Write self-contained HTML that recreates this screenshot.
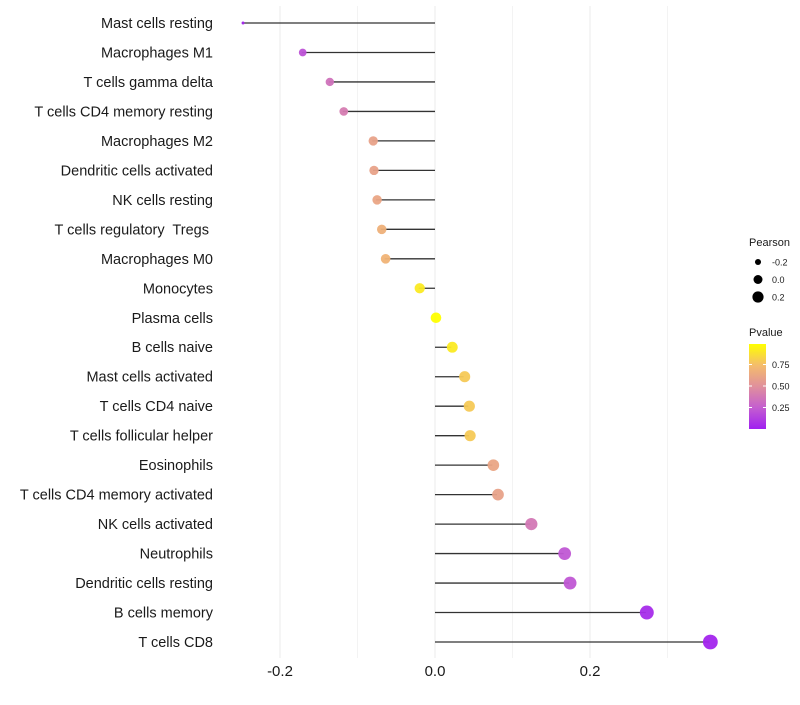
<!DOCTYPE html>
<html><head><meta charset="utf-8"><style>
body{margin:0;background:#fff;}
svg{font-family:"Liberation Sans",sans-serif;}
text{white-space:pre;}
</style></head><body>
<svg id="c" width="800" height="700"></svg>
<script>
const categories=["Mast cells resting","Macrophages M1","T cells gamma delta","T cells CD4 memory resting","Macrophages M2","Dendritic cells activated","NK cells resting","T cells regulatory  Tregs ","Macrophages M0","Monocytes","Plasma cells","B cells naive","Mast cells activated","T cells CD4 naive","T cells follicular helper","Eosinophils","T cells CD4 memory activated","NK cells activated","Neutrophils","Dendritic cells resting","B cells memory","T cells CD8"];
const pearson=[-0.249,-0.172,-0.137,-0.119,-0.081,-0.080,-0.076,-0.070,-0.065,-0.021,0.0,0.021,0.037,0.043,0.044,0.074,0.080,0.123,0.166,0.173,0.272,0.354];
const pvalues=[0.02,0.2,0.35,0.4,0.6,0.6,0.62,0.68,0.7,0.92,1.0,0.92,0.8,0.8,0.8,0.62,0.6,0.38,0.22,0.22,0.05,0.02];
const xTicks=[-0.2,0.0,0.2];
const xTickLabels=["-0.2","0.0","0.2"];
const minorTicks=[-0.1,0.1,0.3];
const sizeLegend=[-0.2,0.0,0.2];
const pLegendTicks=[0.25,0.5,0.75];

const NS="http://www.w3.org/2000/svg";
const svg=document.getElementById('c');
function el(t,a,p){const e=document.createElementNS(NS,t);for(const k in a)e.setAttribute(k,a[k]);(p||svg).appendChild(e);return e;}
const x=v=>435+v*775;
const y=i=>23+i*(619/21);
const pmin=Math.min(...pearson),pmax=Math.max(...pearson);
const rad=v=>{const t=(v-pmin)/(pmax-pmin);return t<=0.001?1.5:Math.sqrt(9+t*46);};
const stops=[[0,[160,32,240]],[0.25,[196,94,208]],[0.5,[224,144,156]],[0.75,[244,188,108]],[1,[255,255,0]]];
function col(p){for(let i=1;i<stops.length;i++){if(p<=stops[i][0]){const a=stops[i-1],b=stops[i];const t=(p-a[0])/(b[0]-a[0]);const c=a[1].map((v,k)=>Math.round(v+(b[1][k]-v)*t));return `rgb(${c})`;}}return 'rgb(255,255,0)';}

minorTicks.forEach(v=>{const g=el('line',{x1:x(v),x2:x(v),y1:6,y2:658,stroke:'#f3f3f3','stroke-width':1});

});
xTicks.forEach((v,i)=>{const g=el('line',{x1:x(v),x2:x(v),y1:6,y2:658,stroke:'#ebebeb','stroke-width':1});


const t=el('text',{x:x(v),y:676,'text-anchor':'middle','font-size':15,fill:'#1a1a1a'});t.textContent=xTickLabels[i];

});

categories.forEach((c,i)=>{
const t=el('text',{x:213,y:y(i)+5,'text-anchor':'end','font-size':14.5,fill:'#1a1a1a'});t.textContent=c;


const l=el('line',{x1:x(0),x2:x(pearson[i]),y1:y(i),y2:y(i),stroke:'#333','stroke-width':1.3});


const d=el('circle',{cx:x(pearson[i])+1,cy:y(i),r:rad(pearson[i]),fill:col(pvalues[i]),'fill-opacity':0.95});


});

const lt=el('text',{x:749,y:246,'font-size':11,fill:'#1a1a1a'});lt.textContent='Pearson';


sizeLegend.forEach((v,i)=>{const cy=262+i*17.5;
const c=el('circle',{cx:758,cy:cy,r:rad(v)*0.85,fill:'#000'});


const t=el('text',{x:772,y:cy+3.5,'font-size':9,fill:'#1a1a1a'});t.textContent=v.toFixed(1);

});

const pt=el('text',{x:749,y:336,'font-size':11,fill:'#1a1a1a'});pt.textContent='Pvalue';


const defs=el('defs',{});const lg=el('linearGradient',{id:'g',x1:0,y1:1,x2:0,y2:0},defs);
stops.forEach(s=>el('stop',{offset:s[0],'stop-color':`rgb(${s[1]})`},lg));
const bar=el('rect',{x:749,y:344,width:17,height:85,fill:'url(#g)'});


pLegendTicks.forEach(v=>{const yy=429-v*86;
el('line',{x1:749,x2:752,y1:yy,y2:yy,stroke:'#fff'});el('line',{x1:763,x2:766,y1:yy,y2:yy,stroke:'#fff'});
const t=el('text',{x:772,y:yy+3.5,'font-size':9,fill:'#1a1a1a'});t.textContent=v.toFixed(2);

});
</script>
</body></html>
